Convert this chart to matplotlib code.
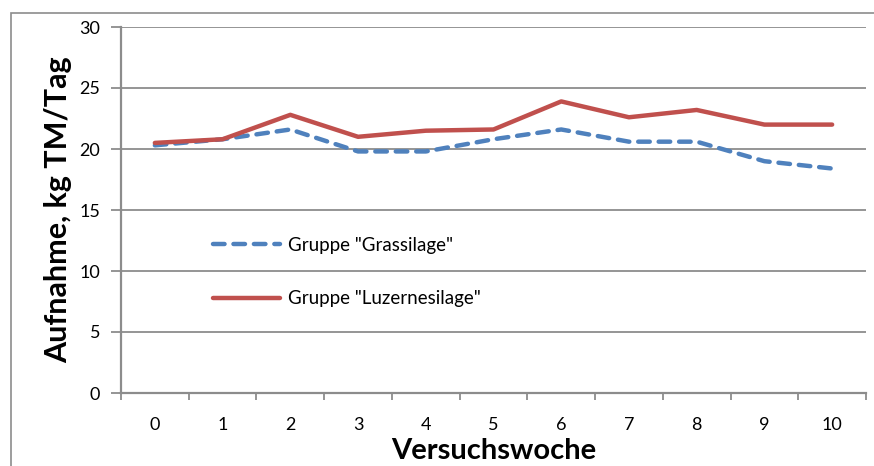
import matplotlib
matplotlib.use("Agg")
import matplotlib.pyplot as plt
from matplotlib.patches import Rectangle

plt.rcParams['font.family'] = ['Lato', 'DejaVu Sans']

weeks = [0, 1, 2, 3, 4, 5, 6, 7, 8, 9, 10]
gras = [20.3, 20.8, 21.6, 19.8, 19.8, 20.8, 21.6, 20.6, 20.6, 19.0, 18.4]
luzerne = [20.5, 20.8, 22.8, 21.0, 21.5, 21.6, 23.9, 22.6, 23.2, 22.0, 22.0]
labels = ['Gruppe "Grassilage"', 'Gruppe "Luzernesilage"']
yticks = [0, 5, 10, 15, 20, 25, 30]

W, H = 874, 466
fig = plt.figure(figsize=(W / 100, H / 100), dpi=100)
ax = fig.add_axes([121 / W, 1 - 393 / H, (866 - 121) / W, (393 - 27) / H])

grid_c = '#8c8c8c'
ax.plot(weeks, gras, color='#4F81BD', lw=3.2, dashes=(2.6, 2.0),
        dash_capstyle='round', label=labels[0], zorder=3)
ax.plot(weeks, luzerne, color='#C0504D', lw=3.2, solid_capstyle='round',
        label=labels[1], zorder=3)

ax.set_xlim(-0.5, 10.5)
ax.set_ylim(0, 30)
ax.set_yticks(yticks)
ax.yaxis.grid(True, color=grid_c, lw=1.3)
ax.set_axisbelow(True)
for s in ['top', 'right']:
    ax.spines[s].set_visible(False)
for s in ['left', 'bottom']:
    ax.spines[s].set_color(grid_c)
    ax.spines[s].set_linewidth(1.6)

ax.set_xticks([w - 0.5 for w in weeks] + [weeks[-1] + 0.5])
ax.set_xticklabels([])
ax.set_xticks(weeks, minor=True)
ax.set_xticklabels([str(w) for w in weeks], minor=True)
ax.tick_params(axis='x', which='major', length=5, width=1.3, color=grid_c, direction='out')
ax.tick_params(axis='x', which='minor', length=0, pad=17, labelsize=13)
ax.tick_params(axis='y', length=7, width=1.3, color=grid_c, labelsize=13, pad=8)

ax.set_xlabel('Versuchswoche', fontsize=21, fontweight='bold', labelpad=4)
ax.set_ylabel('Aufnahme, kg TM/Tag', fontsize=22, fontweight='bold', labelpad=5)

leg = ax.legend(loc='upper left', bbox_to_anchor=(196 / W, 1 - 220 / H),
                bbox_transform=fig.transFigure, frameon=False, fontsize=13.5,
                handlelength=3.6, handletextpad=0.4, labelspacing=1.95)

fig.patches.append(Rectangle((11 / W, -0.1), 1.2, 1 - 13 / H + 0.1,
                             transform=fig.transFigure, fill=False,
                             edgecolor=grid_c, lw=1.2))

fig.savefig('out.png', dpi=100)
